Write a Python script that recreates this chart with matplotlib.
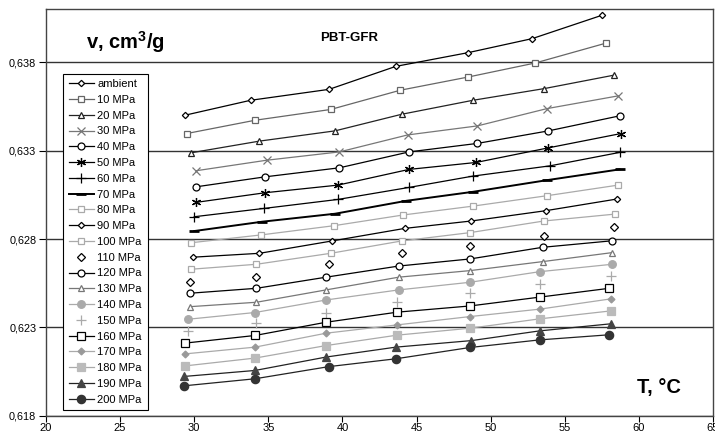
import matplotlib
matplotlib.use('Agg')
import matplotlib.pyplot as plt
from matplotlib.ticker import FixedLocator, FuncFormatter

plt.rcParams['font.family'] = ['Liberation Sans', 'DejaVu Sans']
plt.rcParams['mathtext.fontset'] = 'custom'
plt.rcParams['mathtext.bf'] = 'Liberation Sans:bold'
plt.rcParams['mathtext.rm'] = 'Liberation Sans'

# temperature (C) and specific volume (cm3/g) for each pressure
t_amb = [29.4, 33.8, 39.1, 43.6, 48.5, 52.8, 57.5]
v_amb = [0.63501, 0.63585, 0.63647, 0.63777, 0.63855, 0.63934, 0.64066]
t_10 = [29.5, 34.1, 39.2, 43.9, 48.5, 53.0, 57.8]
v_10 = [0.63397, 0.63472, 0.63533, 0.63642, 0.63717, 0.63796, 0.63909]
t_20 = [29.8, 34.4, 39.5, 44.0, 48.8, 53.6, 58.3]
v_20 = [0.63288, 0.63354, 0.63412, 0.63506, 0.63585, 0.63651, 0.63727]
t_30 = [30.1, 34.9, 39.8, 44.4, 49.1, 53.8, 58.6]
v_30 = [0.63186, 0.63246, 0.63293, 0.63389, 0.63440, 0.63538, 0.63610]
t_40 = [30.1, 34.8, 39.8, 44.5, 49.1, 53.9, 58.7]
v_40 = [0.63095, 0.63152, 0.63203, 0.63293, 0.63341, 0.63412, 0.63497]
t_50 = [30.1, 34.8, 39.7, 44.5, 49.0, 53.9, 58.8]
v_50 = [0.63007, 0.63062, 0.63105, 0.63194, 0.63233, 0.63316, 0.63397]
t_60 = [30.0, 34.7, 39.7, 44.5, 48.8, 54.0, 58.7]
v_60 = [0.62926, 0.62973, 0.63024, 0.63092, 0.63156, 0.63214, 0.63290]
t_70 = [30.0, 34.6, 39.5, 44.3, 48.8, 53.8, 58.7]
v_70 = [0.62845, 0.62898, 0.62943, 0.63016, 0.63067, 0.63133, 0.63194]
t_80 = [29.8, 34.5, 39.4, 44.1, 48.8, 53.8, 58.6]
v_80 = [0.62779, 0.62823, 0.62875, 0.62936, 0.62986, 0.63045, 0.63105]
t_90 = [29.9, 34.4, 39.3, 44.2, 48.7, 53.7, 58.5]
v_90 = [0.62697, 0.62719, 0.62789, 0.62860, 0.62902, 0.62960, 0.63026]
t_100 = [29.8, 34.2, 39.2, 44.0, 48.6, 53.6, 58.4]
v_100 = [0.62629, 0.62657, 0.62719, 0.62789, 0.62836, 0.62902, 0.62941]
t_110 = [29.7, 34.2, 39.1, 44.0, 48.6, 53.6, 58.3]
v_110 = [0.62555, 0.62587, 0.62657, 0.62719, 0.62762, 0.62817, 0.62866]
t_120 = [29.7, 34.2, 38.9, 43.8, 48.6, 53.5, 58.2]
v_120 = [0.62493, 0.62521, 0.62584, 0.62647, 0.62687, 0.62753, 0.62790]
t_130 = [29.7, 34.2, 38.9, 43.8, 48.6, 53.5, 58.2]
v_130 = [0.62417, 0.62442, 0.62512, 0.62584, 0.62621, 0.62672, 0.62723]
t_140 = [29.6, 34.1, 38.9, 43.8, 48.6, 53.3, 58.2]
v_140 = [0.62346, 0.62384, 0.62455, 0.62512, 0.62555, 0.62615, 0.62657]
t_150 = [29.6, 34.2, 38.9, 43.7, 48.6, 53.3, 58.1]
v_150 = [0.62282, 0.62324, 0.62384, 0.62442, 0.62493, 0.62544, 0.62591]
t_160 = [29.4, 34.1, 38.9, 43.7, 48.6, 53.3, 58.0]
v_160 = [0.62211, 0.62254, 0.62329, 0.62386, 0.62421, 0.62471, 0.62521]
t_170 = [29.4, 34.1, 38.9, 43.7, 48.6, 53.3, 58.1]
v_170 = [0.62150, 0.62188, 0.62267, 0.62314, 0.62361, 0.62403, 0.62461]
t_180 = [29.4, 34.1, 38.9, 43.7, 48.6, 53.3, 58.1]
v_180 = [0.62082, 0.62126, 0.62197, 0.62256, 0.62295, 0.62348, 0.62393]
t_190 = [29.3, 34.1, 38.9, 43.6, 48.7, 53.3, 58.1]
v_190 = [0.62022, 0.62056, 0.62132, 0.62188, 0.62225, 0.62280, 0.62320]
t_200 = [29.3, 34.1, 39.1, 43.6, 48.6, 53.3, 58.0]
v_200 = [0.61969, 0.62009, 0.62078, 0.62122, 0.62186, 0.62229, 0.62258]

labels = ['ambient', '10 MPa', '20 MPa', '30 MPa', '40 MPa', '50 MPa', '60 MPa',
          '70 MPa', '80 MPa', '90 MPa', '100 MPa', '110 MPa', '120 MPa', '130 MPa',
          '140 MPa', '150 MPa', '160 MPa', '170 MPa', '180 MPa', '190 MPa', '200 MPa']
temps = [t_amb, t_10, t_20, t_30, t_40, t_50, t_60, t_70, t_80, t_90, t_100,
         t_110, t_120, t_130, t_140, t_150, t_160, t_170, t_180, t_190, t_200]
vols = [v_amb, v_10, v_20, v_30, v_40, v_50, v_60, v_70, v_80, v_90, v_100,
        v_110, v_120, v_130, v_140, v_150, v_160, v_170, v_180, v_190, v_200]

yticks = [0.618, 0.623, 0.628, 0.633, 0.638]
xticks = [20, 25, 30, 35, 40, 45, 50, 55, 60, 65]

# (line colour, marker, marker size, marker face, marker edge, line style)
styles = [
    ('black', 'D', 3.2, 'white', 'black', '-'),
    ('#666666', 's', 4.5, 'white', '#666666', '-'),
    ('#222222', '^', 5, 'white', '#222222', '-'),
    ('#777777', 'x', 5.5, 'none', '#777777', '-'),
    ('black', 'o', 5, 'white', 'black', '-'),
    ('black', (6, 2, 0), 6.5, 'black', 'black', '-'),
    ('black', '+', 6.5, 'black', 'black', '-'),
    ('black', '_', 6.5, 'black', 'black', '-'),
    ('#aaaaaa', 's', 4.5, 'white', '#aaaaaa', '-'),
    ('black', 'D', 3.2, 'white', 'black', '-'),
    ('#aaaaaa', 's', 4.5, 'white', '#aaaaaa', '-'),
    ('none', 'D', 3.8, 'white', 'black', 'none'),
    ('black', 'o', 5, 'white', 'black', '-'),
    ('#777777', '^', 5, 'white', '#777777', '-'),
    ('#aaaaaa', 'o', 5.5, '#aaaaaa', '#aaaaaa', '-'),
    ('none', '+', 6.5, '#aaaaaa', '#aaaaaa', 'none'),
    ('black', 's', 5.5, 'white', 'black', '-'),
    ('#aaaaaa', 'D', 3.5, '#999999', '#999999', '-'),
    ('#aaaaaa', 's', 5.5, '#bbbbbb', '#bbbbbb', '-'),
    ('#222222', '^', 6, '#444444', '#444444', '-'),
    ('#222222', 'o', 6, '#333333', '#333333', '-'),
]

fig = plt.figure(figsize=(7.15, 4.37), dpi=100)
ax = fig.add_axes([46 / 715, 1 - 415.7 / 437, 667 / 715, 406.4 / 437])

for t, v, lab, st in zip(temps, vols, labels, styles):
    col, mk, ms, mfc, mec, ls = st
    lw = 1.4 if lab == '70 MPa' else 0.9
    mew = 2 if lab == '70 MPa' else 0.9
    ax.plot(t, v, color=col, linestyle=ls, linewidth=lw, marker=mk, markersize=ms,
            markerfacecolor=mfc, markeredgecolor=mec, markeredgewidth=mew, label=lab)

ax.set_xlim(20, 65)
ax.set_ylim(0.618, 0.641)
ax.yaxis.set_major_locator(FixedLocator(yticks))
ax.xaxis.set_major_locator(FixedLocator(xticks))
ax.yaxis.set_major_formatter(FuncFormatter(lambda y, p: ('%.3f' % y).replace('.', ',')))
ax.tick_params(axis='y', direction='out', length=5, width=0.8, labelsize=7.8, pad=2)
ax.tick_params(axis='x', direction='out', length=4, width=0.8, labelsize=8, pad=1)
ax.grid(axis='y', color='#333333', linewidth=1)
ax.set_axisbelow(True)
for s in ax.spines.values():
    s.set_color('#444444')
    s.set_linewidth(1)

leg = ax.legend(loc='upper left', bbox_to_anchor=(0.0255, 0.842), fontsize=8,
                frameon=True, fancybox=False, edgecolor='black', framealpha=1,
                handlelength=2.3, handletextpad=0.3, labelspacing=0.52,
                borderpad=0.5, borderaxespad=0)
leg.get_frame().set_linewidth(0.8)

fig.text(86 / 715, 1 - 49 / 437, r'v, cm$\mathbf{^3}$/g', fontsize=14.5,
         fontweight='bold', ha='left', va='baseline')
fig.text(349 / 715, 1 - 40.7 / 437, 'PBT-GFR', fontsize=9.5, fontweight='bold',
         ha='center', va='baseline')
fig.text(637 / 715, 1 - 393 / 437, 'T, °C', fontsize=14.5, fontweight='bold',
         ha='left', va='baseline')

fig.savefig('out.png', dpi=100)
